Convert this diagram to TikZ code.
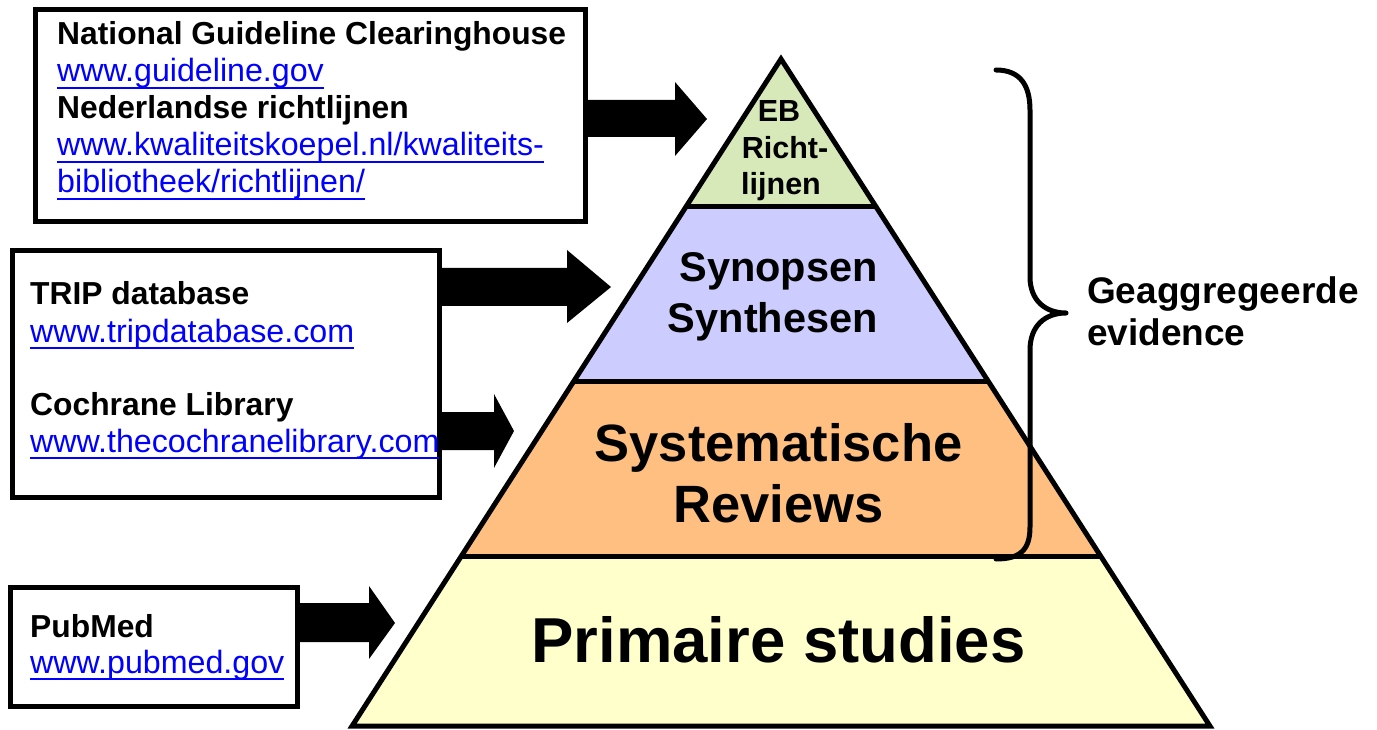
\documentclass[tikz,border=0pt]{standalone}
\usepackage{fontspec}
\setmainfont{Liberation Sans}
\definecolor{bandA}{HTML}{D7E8B9}
\definecolor{bandB}{HTML}{CCCCFF}
\definecolor{bandC}{HTML}{FFBF80}
\definecolor{bandD}{HTML}{FFFFCC}
\definecolor{linkblue}{HTML}{0000FF}
\newcommand\lnk[1]{\setbox0\hbox{#1}\rlap{\rule[-7.2pt]{\wd0}{2.4pt}}\box0}
\begin{document}
\begin{tikzpicture}[x=1pt,y=-1pt,
  boxnode/.style={draw=black, line width=5pt, fill=white, rectangle, inner sep=0pt},
  txt/.style={inner sep=0pt, anchor=base west, font=\fontsize{32.2}{37}\selectfont},
  hd/.style={inner sep=0pt, anchor=base west, font=\bfseries\fontsize{31.8}{37}\selectfont},
  urltxt/.style={txt, text=linkblue},
  outline/.style={draw=black, line width=5pt, line join=miter},
  blockarrow/.style={fill=black},
  lblA/.style={inner sep=0pt, anchor=base, font=\bfseries\fontsize{30.5}{36}\selectfont},
  lblB/.style={inner sep=0pt, anchor=base east, font=\bfseries\fontsize{41.5}{50}\selectfont},
  lblC/.style={inner sep=0pt, anchor=base, font=\bfseries\fontsize{52.5}{61}\selectfont},
  lblD/.style={inner sep=0pt, anchor=base, font=\bfseries\fontsize{63.5}{70}\selectfont},
  lblE/.style={inner sep=0pt, anchor=base west, font=\bfseries\fontsize{37}{42}\selectfont},
  bracestyle/.style={draw=black, line width=5pt, line cap=round, line join=round}
]
\useasboundingbox (0,0) rectangle (1377,730);

% pyramid coordinates
\coordinate (apex) at (781,59);
\coordinate (l1) at (685.8,207);  \coordinate (r1) at (876.2,207);
\coordinate (l2) at (573.9,381);  \coordinate (r2) at (988.1,381);
\coordinate (l3) at (461.4,556);  \coordinate (r3) at (1100.6,556);
\coordinate (l4) at (352.1,726);  \coordinate (r4) at (1209.9,726);

\fill[bandA] (apex) -- (r1) -- (l1) -- cycle;
\fill[bandB] (l1) -- (r1) -- (r2) -- (l2) -- cycle;
\fill[bandC] (l2) -- (r2) -- (r3) -- (l3) -- cycle;
\fill[bandD] (l3) -- (r3) -- (r4) -- (l4) -- cycle;
\draw[outline] (apex) -- (r4) -- (l4) -- cycle;
\draw[outline] (l1) -- (r1);
\draw[outline] (l2) -- (r2);
\draw[outline] (l3) -- (r3);

% pyramid labels
\node[lblA] (ebA) at (779,122) {EB};
\node[lblA] (ebB) at (785,159) {Richt-};
\node[lblA] (ebC) at (781,195) {lijnen};
\node[lblB] (synA) at (878,282) {Synopsen};
\node[lblB] (synB) at (878,332) {Synthesen};
\node[lblC] (sysA) at (778.5,461) {Systematische};
\node[lblC] (sysB) at (778.5,522) {Reviews};
\node[lblD] (prim) at (778.5,662) {Primaire studies};

% boxes
\node[boxnode, minimum width=550pt, minimum height=212pt] (box1) at (310,116) {};
\node[boxnode, minimum width=427pt, minimum height=246pt] (box2) at (225.5,374) {};
\node[boxnode, minimum width=287pt, minimum height=119pt] (box3) at (153.5,646.5) {};

% box 1 text
\node[hd] (b1a) at (57,45) {National Guideline Clearinghouse};
\node[urltxt] (b1b) at (57,82) {\lnk{www.guideline.gov}};
\node[hd] (b1c) at (57,119) {Nederlandse richtlijnen};
\node[urltxt] (b1d) at (57,156) {\lnk{www.kwaliteitskoepel.nl/kwaliteits-}};
\node[urltxt] (b1e) at (57,193) {\lnk{bibliotheek/richtlijnen/}};

% box 2 text
\node[hd] (b2a) at (30,305) {TRIP database};
\node[urltxt] (b2b) at (30,342) {\lnk{www.tripdatabase.com}};
\node[hd] (b2c) at (30,415) {Cochrane Library};
\node[urltxt] (b2d) at (30,452) {\lnk{www.thecochranelibrary.com}};

% box 3 text
\node[hd] (b3a) at (30,637) {PubMed};
\node[urltxt] (b3b) at (30,673) {\lnk{www.pubmed.gov}};

% block arrows
\fill[blockarrow] (585,100) -- (675,100) -- (675,82) -- (707,119) -- (675,156) -- (675,137) -- (585,137) -- cycle;
\fill[blockarrow] (439,268) -- (567,268) -- (567,250) -- (611,287) -- (567,323) -- (567,306) -- (439,306) -- cycle;
\fill[blockarrow] (439,412) -- (494,412) -- (494,394) -- (514,431) -- (494,468) -- (494,450) -- (439,450) -- cycle;
\fill[blockarrow] (297,603) -- (369,603) -- (369,586) -- (395,623) -- (369,659) -- (369,642) -- (297,642) -- cycle;

% brace
\draw[bracestyle] (996,70) .. controls (1020,70) and (1030,85) .. (1030,110)
  -- (1030,277) .. controls (1030,300) and (1045,313) .. (1066,313)
  .. controls (1045,313) and (1030,326) .. (1030,350)
  -- (1030,527) .. controls (1030,550) and (1020,559) .. (996,559);

\node[lblE] (agA) at (1087,303) {Geaggregeerde};
\node[lblE] (agB) at (1087,345) {evidence};
\end{tikzpicture}
\end{document}
